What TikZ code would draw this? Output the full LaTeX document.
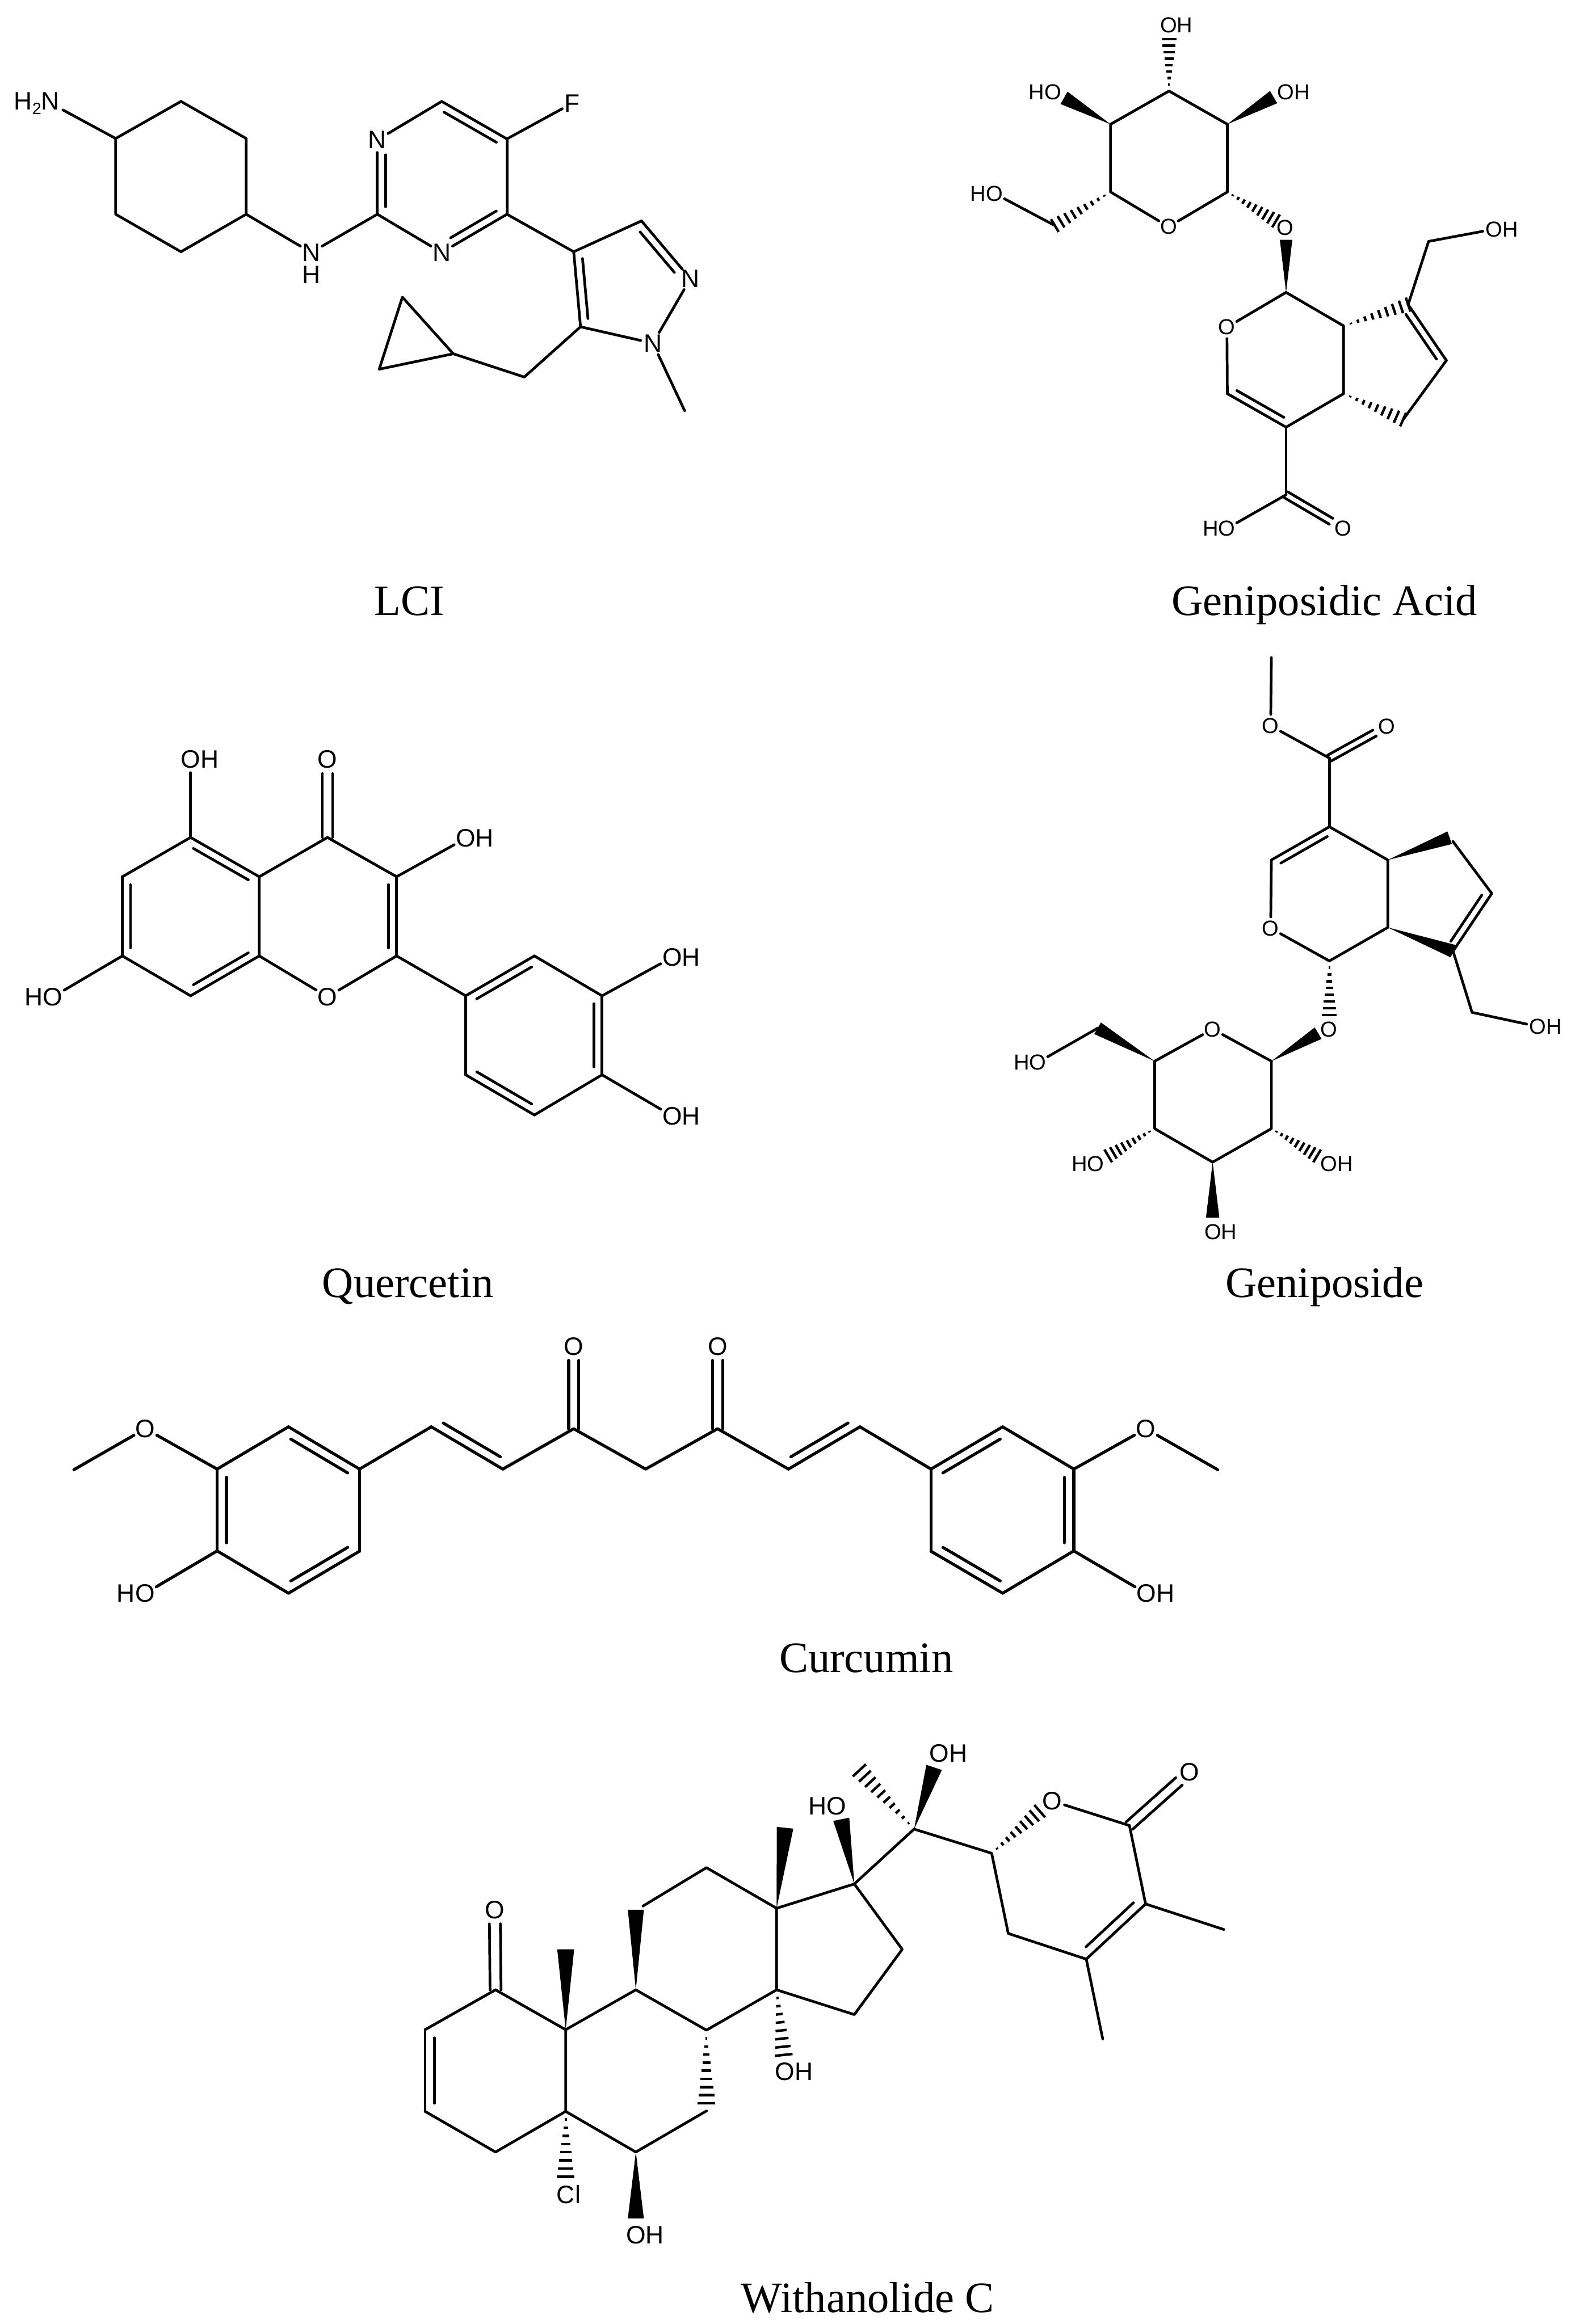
\documentclass[tikz,border=0pt]{standalone}
\usepackage{fontspec}
\setmainfont{Liberation Serif}
\setsansfont{Liberation Sans}
\usetikzlibrary{calc}
\tikzset{
  bondl/.style={line width=1.8pt,line cap=round,line join=round,black},
  hashl/.style={line width=1.7pt,line cap=butt,black},
  atomS/.style={circle,inner sep=0pt,outer sep=0pt,text=black,font=\sffamily\fontsize{14.6}{16}\selectfont},
  atomL/.style={circle,inner sep=0pt,outer sep=0pt,text=black,font=\sffamily\fontsize{17}{19}\selectfont},
  title/.style={inner sep=0pt,anchor=base,text=black,font=\rmfamily\fontsize{29.3}{32}\selectfont}
}
\newcommand\Pt[3]{\coordinate (#1) at (#2,#3);}
% ring double bond: offset positive = left of the direction a->b on the page
\newcommand\Db[3]{\draw[bondl] (#1)--(#2);
  \draw[bondl] ($(#1)!0.1!(#2)!#3pt!90:(#2)$) -- ($(#2)!0.1!(#1)!-#3pt!90:(#1)$);}
% same with an atom label at b
\newcommand\Dn[3]{\draw[bondl] (#1)--(#2);
  \draw[bondl] ($(#1)!0.1!(#2)!#3pt!90:(#2)$) -- ($(#2)!0.2!(#1)!-#3pt!90:(#1)$);}
% carbonyl: two lines either side of the axis, b is a label
\newcommand\Cd[3]{\draw[bondl,shorten >=9.5pt] ($(#1)!#3pt!90:(#2)$) -- ($(#2)!#3pt!-90:(#1)$);
  \draw[bondl,shorten >=9.5pt] ($(#1)!#3pt!-90:(#2)$) -- ($(#2)!#3pt!90:(#1)$);}
\newcommand\We[3]{\fill[black] (#1) -- ($(#2)!#3pt!90:(#1)$) -- ($(#2)!#3pt!-90:(#1)$) -- cycle;}
\newcommand\Ha[4][8]{\foreach \myI in {1,...,#1}{%
  \pgfmathsetmacro\myT{\myI/#1}\pgfmathsetmacro\myH{\myT*#4}%
  \draw[hashl] ($(#2)!\myT!(#3)!\myH pt!90:(#2)$) -- ($(#2)!\myT!(#3)!\myH pt!-90:(#2)$);}}
\begin{document}
\begin{tikzpicture}[x=1pt,y=-1pt]
\fill[white] (0,0) rectangle (1059,1567.4);
\useasboundingbox (0,0) rectangle (1059,1567.4);

%%%%% LCI
\Pt{a1}{78}{93.4}\Pt{a2}{122}{68.4}\Pt{a3}{166}{93.4}\Pt{a4}{166}{144.5}\Pt{a5}{122}{169.8}\Pt{a6}{78}{144.5}
\Pt{p2}{254.4}{144.5}\Pt{p6}{297.8}{68.4}\Pt{p5}{341.8}{93.7}\Pt{p4}{341.8}{144.5}
\Pt{z4}{386.8}{169.8}\Pt{z3}{432.5}{149}\Pt{z5}{391.4}{220.4}
\Pt{zc}{353.5}{254.3}\Pt{cp1}{305.6}{238.6}\Pt{cp2}{255.7}{249}\Pt{cp3}{271.3}{200.4}\Pt{zm}{461.6}{277}
\node[atomL] (nh2) at (34,69.6) {\llap{H\raisebox{-3pt}{\fontsize{11}{11}\selectfont 2}}N};
\node[atomL] (nh) at (209.8,170.3) {N};
\node[atomL] (nhH) at (209.8,185.2) {H};
\node[atomL] (pn1) at (254.4,94.4) {N};
\node[atomL] (pn3) at (297.8,170.3) {N};
\node[atomL] (pf) at (385.9,69.6) {F};
\node[atomL] (zn2) at (465.5,188) {N};
\node[atomL] (zn1) at (440.2,231.5) {N};
\draw[bondl] (nh2)--(a1);
\draw[bondl] (a1)--(a2)--(a3)--(a4)--(a5)--(a6)--cycle;
\draw[bondl] (a4)--(nh);\draw[bondl] (nh)--(p2);
\Dn{p2}{pn1}{-5.5}
\draw[bondl] (pn1)--(p6);
\Db{p5}{p6}{5.5}
\draw[bondl] (p5)--(pf);\draw[bondl] (p5)--(p4);
\Dn{p4}{pn3}{-5.5}
\draw[bondl] (pn3)--(p2);
\draw[bondl] (p4)--(z4);
\draw[bondl] (z4)--(z3);
\Dn{z3}{zn2}{-5.5}
\draw[bondl] (zn2)--(zn1);\draw[bondl] (zn1)--(z5);
\Db{z4}{z5}{5.5}
\draw[bondl] (z5)--(zc)--(cp1);
\draw[bondl] (cp1)--(cp2)--(cp3)--cycle;
\draw[bondl] (zn1)--(zm);
\node[title] (tLCI) at (276,415) {LCI};

%%%%% Geniposidic Acid
\Pt{g1}{788.2}{61.4}\Pt{g2}{827.5}{83.8}\Pt{g3}{748.8}{83.8}\Pt{g4}{827.5}{129.5}\Pt{g5}{748.8}{129.5}
\Pt{gch}{711.2}{152.1}
\Pt{g1w}{788.2}{26.5}\Pt{g2w}{858.7}{65.5}\Pt{g3w}{717.4}{66}\Pt{g4w}{860.3}{149}\Pt{glw}{867.1}{161.7}
\Pt{k1}{867.1}{197.2}\Pt{k8a}{905.9}{219.8}\Pt{k4a}{905.9}{265.5}\Pt{k4}{867.1}{288.1}\Pt{k3}{827.5}{265.5}
\Pt{k7}{949.4}{205.4}\Pt{k6}{975.2}{243.1}\Pt{k5}{946}{283}\Pt{kch}{963.2}{162.8}\Pt{kco}{867.1}{333.7}
\node[atomS] (go1) at (787.9,16.9) {O\rlap{H}};
\node[atomS] (go2) at (866.8,62.3) {O\rlap{H}};
\node[atomS] (go3) at (709.8,62.3) {\llap{H}O};
\node[atomS] (go6) at (670.5,130.5) {\llap{H}O};
\node[atomS] (gor) at (787.9,152.9) {O};
\node[atomS] (gol) at (866.5,153.5) {O};
\node[atomS] (kor) at (827.2,220.7) {O};
\node[atomS] (koh) at (1007.3,154.6) {O\rlap{H}};
\node[atomS] (kho) at (827.2,356.4) {\llap{H}O};
\node[atomS] (kdo) at (905.6,356.4) {O};
\draw[bondl] (g5)--(g3)--(g1)--(g2)--(g4);
\draw[bondl] (g5)--(gor);\draw[bondl] (gor)--(g4);
\Ha{g1}{g1w}{5}\We{g2}{g2w}{4.8}\We{g3}{g3w}{4.8}
\Ha[9]{g5}{gch}{5}\draw[bondl] (gch)--(go6);
\Ha[9]{g4}{g4w}{5}
\We{k1}{glw}{4.2}
\draw[bondl] (k1)--(kor);\draw[bondl] (k1)--(k8a)--(k4a)--(k4);
\draw[bondl] (kor)--(k3);
\Db{k3}{k4}{5}
\Ha[9]{k8a}{k7}{5}\Ha[9]{k4a}{k5}{5}
\Db{k6}{k7}{5}
\draw[bondl] (k5)--(k6);
\draw[bondl] (k7)--(kch);\draw[bondl] (kch)--(koh);
\draw[bondl] (k4)--(kco);\draw[bondl] (kco)--(kho);
\Cd{kco}{kdo}{2.3}
\node[title] (tGA) at (893,415) {Geniposidic Acid};

%%%%% Quercetin
\Pt{qc5}{128.5}{564.8}\Pt{qc4}{220.8}{564.8}\Pt{qc4a}{174.8}{591.3}\Pt{qc3}{267.4}{591.3}
\Pt{qc6}{82.5}{591.3}\Pt{qc7}{82.5}{644.7}\Pt{qc8}{128.5}{671.6}\Pt{qc8a}{174.8}{644.7}\Pt{qc2}{267.4}{644.7}
\Pt{qb1}{314}{671.6}\Pt{qb2}{360.3}{644.7}\Pt{qb3}{405.9}{671.6}\Pt{qb4}{405.9}{724.9}\Pt{qb5}{360.3}{752}\Pt{qb6}{314}{724.9}
\node[atomL] (qo5) at (128.5,512.2) {O\rlap{H}};
\node[atomL] (qo4) at (220.8,512.2) {O};
\node[atomL] (qo3) at (314,565.4) {O\rlap{H}};
\node[atomL] (qo7) at (35.6,672.3) {\llap{H}O};
\node[atomL] (qo1) at (220.8,672.3) {O};
\node[atomL] (qo3b) at (453.2,645.7) {O\rlap{H}};
\node[atomL] (qo4b) at (453.2,752.6) {O\rlap{H}};
\draw[bondl] (qc5)--(qo5);
\Cd{qc4}{qo4}{3.4}
\Db{qc4a}{qc5}{5.5}
\draw[bondl] (qc5)--(qc6);
\Db{qc6}{qc7}{5.5}
\draw[bondl] (qc7)--(qc8);
\Db{qc8}{qc8a}{5.5}
\draw[bondl] (qc8a)--(qc4a)--(qc4)--(qc3);
\draw[bondl] (qc3)--(qo3);\draw[bondl] (qc7)--(qo7);
\draw[bondl] (qc8a)--(qo1);\draw[bondl] (qo1)--(qc2);
\Db{qc2}{qc3}{5.5}
\draw[bondl] (qc2)--(qb1);
\Db{qb2}{qb1}{5.5}
\draw[bondl] (qb2)--(qb3);
\Db{qb4}{qb3}{5.5}
\draw[bondl] (qb4)--(qb5);
\Db{qb6}{qb5}{5.5}
\draw[bondl] (qb6)--(qb1);
\draw[bondl] (qb3)--(qo3b);\draw[bondl] (qb4)--(qo4b);
\node[title] (tQ) at (275,875) {Quercetin};

%%%%% Geniposide
\Pt{nm}{857.2}{443.5}\Pt{nco}{896.3}{511.3}\Pt{n4}{896.3}{557.6}\Pt{n3}{857.2}{580}\Pt{n1}{896.3}{648.1}
\Pt{n7a}{935.7}{625.5}\Pt{n4a}{935.7}{580}\Pt{n5w}{977.4}{565}\Pt{n5}{979.6}{567.5}\Pt{n6}{1005.8}{602.6}\Pt{n7}{979.7}{641.5}
\Pt{nch}{992.5}{682.8}\Pt{nlw}{896.3}{684.5}
\Pt{s1}{857.2}{715.7}\Pt{s5}{778.5}{715.7}\Pt{s4}{778.5}{761.2}\Pt{s3}{817.6}{783.8}\Pt{s2}{857.2}{761.2}
\Pt{s1w}{888.7}{696.8}\Pt{sch}{740}{693.5}\Pt{s4w}{747.2}{779.6}\Pt{s2w}{888}{779.6}\Pt{s3w}{817.6}{821.2}
\node[atomS] (nom) at (856.7,489.5) {O};
\node[atomS] (ndo) at (935.1,489.8) {O};
\node[atomS] (nor) at (856.7,626) {O};
\node[atomS] (nol) at (895.8,694.1) {O};
\node[atomS] (noh) at (1036.8,692.3) {O\rlap{H}};
\node[atomS] (sor) at (817.6,694.1) {O};
\node[atomS] (so6) at (699.7,716.5) {\llap{H}O};
\node[atomS] (so4) at (738.8,784.9) {\llap{H}O};
\node[atomS] (so2) at (896,784.9) {O\rlap{H}};
\node[atomS] (so3) at (817.8,830.9) {O\rlap{H}};
\draw[bondl] (nm)--(nom);\draw[bondl] (nom)--(nco);
\Cd{nco}{ndo}{2.3}
\draw[bondl] (nco)--(n4);
\Db{n4}{n3}{5}
\draw[bondl] (n3)--(nor);\draw[bondl] (nor)--(n1);
\draw[bondl] (n1)--(n7a)--(n4a)--(n4);
\We{n4a}{n5w}{4.5}\We{n7a}{n7}{4.5}
\draw[bondl] (n5)--(n6);
\Db{n7}{n6}{5}
\draw[bondl] (n7)--(nch);\draw[bondl] (nch)--(noh);
\Ha{n1}{nlw}{5}
\We{s1}{s1w}{4.5}
\draw[bondl] (s1)--(sor);\draw[bondl] (sor)--(s5);
\draw[bondl] (s5)--(s4)--(s3)--(s2)--(s1);
\We{s5}{sch}{4.5}\draw[bondl] (sch)--(so6);
\Ha[9]{s4}{s4w}{5}\Ha[9]{s2}{s2w}{5}\We{s3}{s3w}{4.5}
\node[title] (tG) at (893,875) {Geniposide};

%%%%% Curcumin
\begin{scope}[bondl/.append style={line width=2pt}]
\Pt{cm1}{49.8}{991.2}\Pt{c3}{146.4}{990.8}\Pt{c2}{194.5}{962.3}\Pt{c1}{242.4}{990.8}\Pt{c6}{242.4}{1046.2}\Pt{c5}{194.5}{1074.5}\Pt{c4}{146.4}{1046}
\Pt{cv1}{290.8}{962.3}\Pt{cv2}{339}{990.8}\Pt{cco1}{386.8}{963.6}\Pt{cch}{435.3}{990.8}\Pt{cco2}{483.8}{963.6}
\Pt{cv3}{531.6}{990.8}\Pt{cv4}{579.8}{962.3}
\Pt{d1}{627.7}{990.8}\Pt{d2}{676}{962.3}\Pt{d3}{724}{990.8}\Pt{d4}{724}{1046}\Pt{d5}{676}{1074.5}\Pt{d6}{627.7}{1046.2}\Pt{cm2}{821}{991.2}
\node[atomL] (cmo1) at (98,963.6) {O};
\node[atomL] (cho1) at (97.7,1074.7) {\llap{H}O};
\node[atomL] (cdo1) at (386.8,908) {O};
\node[atomL] (cdo2) at (483.8,908) {O};
\node[atomL] (cmo2) at (772.6,963.6) {O};
\node[atomL] (cho2) at (772.9,1074.7) {O\rlap{H}};
\draw[bondl] (cm1)--(cmo1);\draw[bondl] (cmo1)--(c3);\draw[bondl] (c3)--(c2);
\Db{c1}{c2}{6.3}
\draw[bondl] (c1)--(c6);
\Db{c5}{c6}{6.3}
\draw[bondl] (c5)--(c4);
\Db{c3}{c4}{6.3}
\draw[bondl] (c4)--(cho1);
\draw[bondl] (c1)--(cv1);
\Db{cv1}{cv2}{6.3}
\draw[bondl] (cv2)--(cco1)--(cch)--(cco2)--(cv3);
\Cd{cco1}{cdo1}{3.4}\Cd{cco2}{cdo2}{3.4}
\Db{cv3}{cv4}{6.3}
\draw[bondl] (cv4)--(d1);
\Db{d2}{d1}{6.3}
\draw[bondl] (d2)--(d3);
\Db{d4}{d3}{6.3}
\draw[bondl] (d4)--(d5);
\Db{d6}{d5}{6.3}
\draw[bondl] (d6)--(d1);
\draw[bondl] (d3)--(cmo2);\draw[bondl] (cmo2)--(cm2);\draw[bondl] (d4)--(cho2);
\end{scope}
\node[title] (tC) at (584,1128) {Curcumin};

%%%%% Withanolide C
\Pt{w1}{334.1}{1342}\Pt{w2}{286.6}{1368.9}\Pt{w3}{286.6}{1424}\Pt{w4}{334.1}{1451.4}\Pt{w5}{381.4}{1424}\Pt{w10}{381.4}{1368.9}
\Pt{w19}{381.4}{1314.7}\Pt{w9}{428.7}{1342}\Pt{w11w}{428.7}{1288}\Pt{w11}{433.5}{1285.5}\Pt{w12}{476.3}{1259.6}\Pt{w13}{523.6}{1287}
\Pt{w14}{523.6}{1342}\Pt{w8}{476.3}{1369.2}\Pt{w7w}{476.3}{1418.5}\Pt{w7}{476.3}{1423.7}\Pt{w6}{428.7}{1451.4}
\Pt{w6w}{428.7}{1496.2}\Pt{wclw}{381.4}{1468}\Pt{w18}{529.3}{1232.7}\Pt{w17}{576}{1270.6}\Pt{w16}{608.3}{1314.7}\Pt{w15}{576}{1358.7}
\Pt{w14w}{528.4}{1385.9}\Pt{w17w}{567.2}{1227}\Pt{w20}{616.3}{1233.6}\Pt{w22}{668.6}{1249.9}\Pt{w21}{579.4}{1194}\Pt{w20w}{629.8}{1192}
\Pt{w22w}{701}{1221.5}\Pt{w26}{761.5}{1231.2}\Pt{w25}{772.4}{1284.1}\Pt{w24}{732.4}{1321.3}\Pt{w23}{679.8}{1304}\Pt{w28}{825.1}{1301.3}\Pt{w27}{743.5}{1375.2}
\node[atomL] (wo1) at (333.6,1288) {O};
\node[atomL] (wcl) at (383.4,1479.8) {Cl};
\node[atomL] (wo6) at (428.7,1507.2) {O\rlap{H}};
\node[atomL] (wo14) at (529.3,1397.1) {O\rlap{H}};
\node[atomL] (wo17) at (563.8,1218.1) {\llap{H}O};
\node[atomL] (wo20) at (633.2,1182.6) {O\rlap{H}};
\node[atomL] (wol) at (709.2,1214.6) {O};
\node[atomL] (wdo) at (802,1195.1) {O};
\Cd{w1}{wo1}{3.7}
\draw[bondl] (w1)--(w2);
\Db{w2}{w3}{6.2}
\draw[bondl] (w3)--(w4)--(w5)--(w10)--(w1);
\We{w10}{w19}{5.7}
\draw[bondl] (w10)--(w9)--(w8)--(w14)--(w13)--(w12)--(w11);
\We{w9}{w11w}{5.4}
\draw[bondl] (w13)--(w17)--(w16)--(w15)--(w14);
\We{w13}{w18}{5.6}
\draw[bondl] (w5)--(w6)--(w7);
\Ha[9]{w8}{w7w}{6}
\Ha[8]{w5}{wclw}{6}
\We{w6}{w6w}{5.4}
\Ha[8]{w14}{w14w}{6}
\We{w17}{w17w}{5.5}
\draw[bondl] (w17)--(w20)--(w22)--(w23)--(w24);
\Ha[10]{w20}{w21}{6}
\We{w20}{w20w}{5.5}
\Ha[9]{w22}{w22w}{5.5}
\draw[bondl] (wol)--(w26);
\Cd{w26}{wdo}{3.3}
\draw[bondl] (w26)--(w25);
\Db{w24}{w25}{6.2}
\draw[bondl] (w25)--(w28);\draw[bondl] (w24)--(w27);
\node[title] (tW) at (585,1559.5) {Withanolide C};
\end{tikzpicture}
\end{document}
